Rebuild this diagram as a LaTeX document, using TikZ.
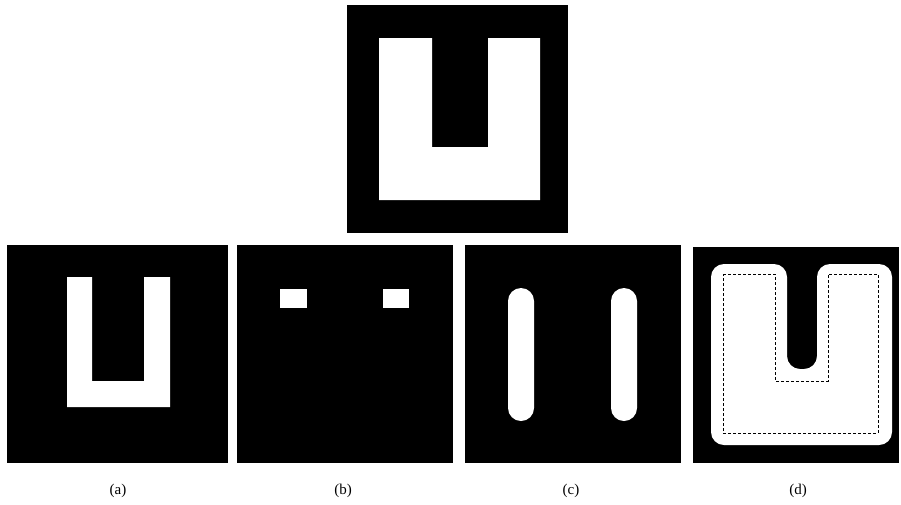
\documentclass[tikz,border=0pt]{standalone}
\usepackage{fontspec}
\setmainfont{Liberation Serif}
\begin{document}
\begin{tikzpicture}[x=1pt,y=-1pt,
  blk/.style={fill=black},
  wht/.style={fill=white},
  sublabel/.style={font=\fontsize{15}{17}\selectfont,inner sep=1pt}]
\useasboundingbox (0,0) rectangle (901,504);
% original U on top
\begin{scope}
\fill[blk] (347,5) rectangle (568,233);
\fill[wht] (379,38) -- (432,38) -- (432,147) -- (488,147) -- (488,38) -- (540,38) -- (540,200) -- (379,200) -- cycle;
\end{scope}
% (a) smaller U
\begin{scope}
\fill[blk] (7,245) rectangle (228,463);
\fill[wht] (67,277) -- (92,277) -- (92,381) -- (144,381) -- (144,277) -- (170,277) -- (170,407) -- (67,407) -- cycle;
\node[sublabel] (la) at (118,491) {(a)};
\end{scope}
% (b) two small squares
\begin{scope}
\fill[blk] (237,245) rectangle (453,463);
\fill[wht] (280,289) rectangle (307,308);
\fill[wht] (383,289) rectangle (409,308);
\node[sublabel] (lb) at (343,491) {(b)};
\end{scope}
% (c) two bars
\begin{scope}
\fill[blk] (465,245) rectangle (681,463);
\fill[wht,rounded corners=13] (508,288) rectangle (534,421);
\fill[wht,rounded corners=13] (611,288) rectangle (637,421);
\node[sublabel] (lc) at (571,491) {(c)};
\end{scope}
% (d) dilated U with original outline dashed
\begin{scope}
\fill[blk] (693,247) rectangle (899,463);
\fill[wht,rounded corners=13] (711,445) -- (711,264) -- (787,264) -- (787,369)
  -- (817,369) -- (817,264) -- (892,264) -- (892,445) -- cycle;
\draw[densely dashed,line width=0.8pt] (723,274) -- (775,274) -- (775,381) -- (828,381) -- (828,274) -- (878,274) -- (878,433) -- (723,433) -- cycle;
\node[sublabel] (ld) at (798,491) {(d)};
\end{scope}
\end{tikzpicture}
\end{document}
